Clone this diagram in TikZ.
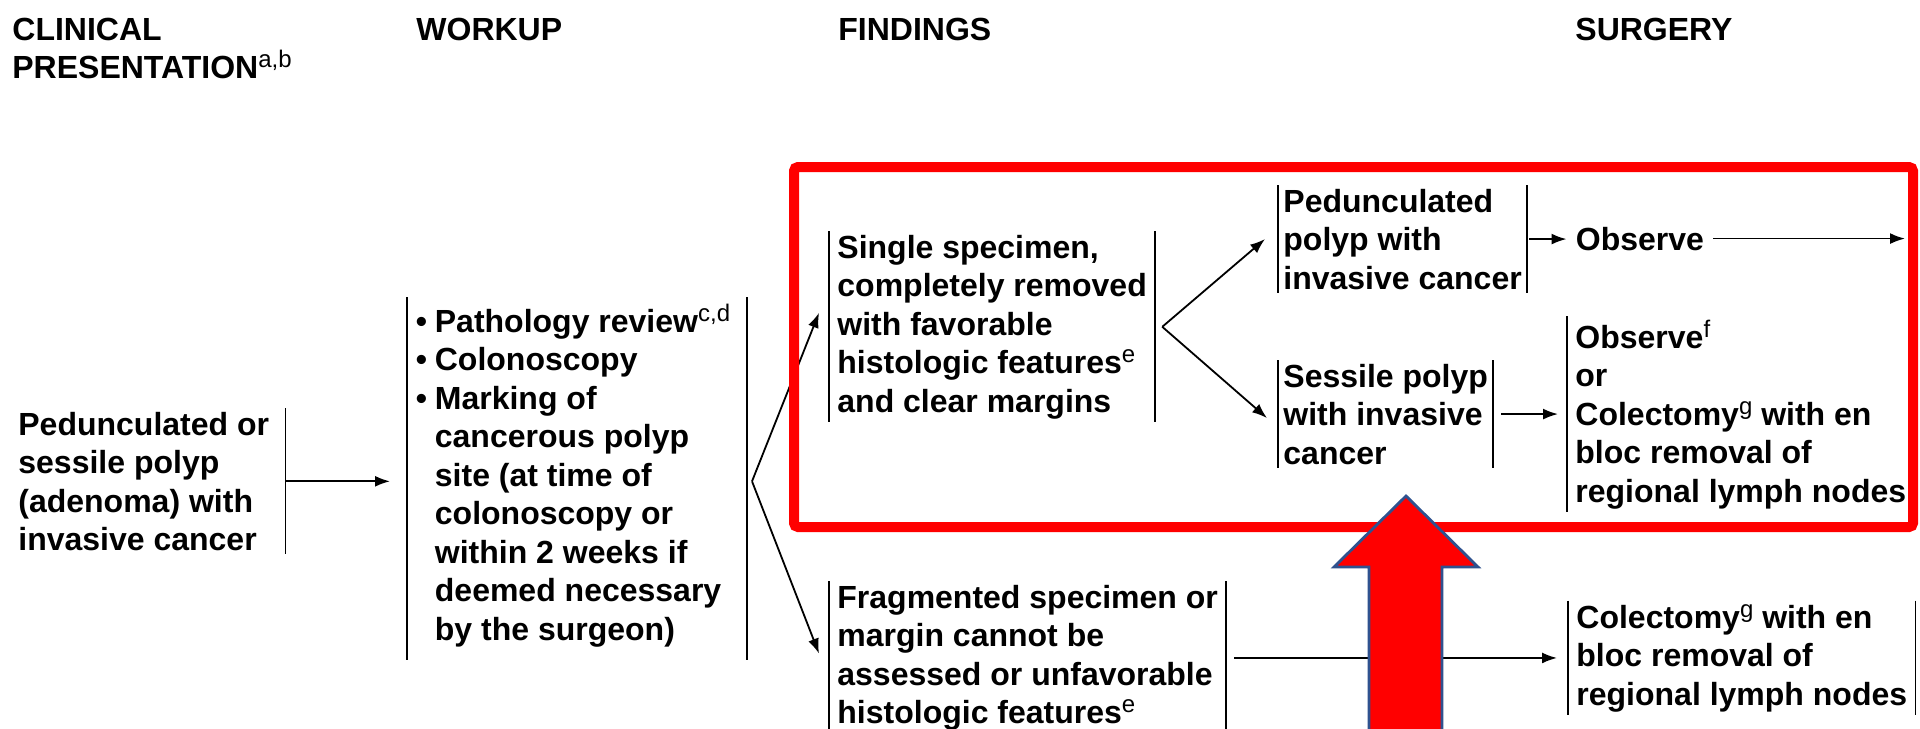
\documentclass[tikz,border=0pt]{standalone}
\usepackage{fontspec}
\setmainfont{Liberation Sans}
\usetikzlibrary{arrows.meta,calc}

% footnote markers, bullets and hanging indent for the workup list
\newcommand\supx[1]{\raisebox{5.5pt}{\fontsize{12}{12}\selectfont\mdseries #1}}
\newcommand\bul{\makebox[9.5pt][l]{\textbullet}}
\newcommand\ind{\hspace*{9.5pt}}

\definecolor{arrowblue}{RGB}{47,82,143}
\definecolor{hilite}{RGB}{255,0,0}

\begin{document}
\begin{tikzpicture}[x=0.5pt,y=-0.5pt,
  % multi-line nodes are placed by the baseline of their last line
  txt/.style={font=\fontsize{16}{19.25}\selectfont\bfseries, align=left,
              anchor=base west, inner ysep=1.5pt},
  head/.style={txt, inner sep=0pt},
  bar/.style={line width=0.9pt},
  link/.style={line width=0.9pt, -{Latex[length=7.5pt,width=5.5pt]}}]

\fill[white] (0,0) rectangle (1920,728);
\useasboundingbox (0,0) rectangle (1920,728);

% column headings
\node[head] (hclin) at (12,78.5) {CLINICAL\\PRESENTATION\supx{a,b}};
\node[head] (hwork) at (416,40)  {WORKUP};
\node[head] (hfind) at (838,40)  {FINDINGS};
\node[head] (hsurg) at (1575,40) {SURGERY};

% text blocks
\node[txt, inner xsep=4pt] (pres) at (10,550.5)
  {Pedunculated or\kern4pt\\sessile polyp\\(adenoma) with\\invasive cancer};
\node[txt, inner xsep=4.25pt] (work) at (407,640)
  {\bul Pathology review\supx{c,d}\kern4pt\\\bul Colonoscopy\\\bul Marking of\\
   \ind cancerous polyp\\\ind site (at time of\\\ind colonoscopy or\\
   \ind within 2 weeks if\\\ind deemed necessary\\\ind by the surgeon)};
\node[txt, inner xsep=4pt] (single) at (829,412)
  {Single specimen,\\completely removed\\with favorable\\histologic features\supx{e}\\and clear margins};
\node[txt, inner xsep=4pt] (frag) at (829,723.5)
  {Fragmented specimen or\\margin cannot be\\assessed or unfavorable\\histologic features\supx{e}};
\node[txt, inner xsep=2.5pt] (ped) at (1278,289)
  {Pedunculated\\polyp with\\invasive cancer};
\node[txt, inner xsep=2.5pt] (sess) at (1278,464)
  {Sessile polyp\\with invasive\\cancer};
\node[txt, inner xsep=4pt] (obsf) at (1567,502)
  {Observe\supx{f}\\or\\Colectomy\supx{g} with en\\bloc removal of\\regional lymph nodes};
\node[txt, inner xsep=4pt] (col) at (1568,705)
  {Colectomy\supx{g} with en\\bloc removal of\\regional lymph nodes};
\node[txt, inner xsep=4.5pt] (obs) at (1566.5,250) {Observe};

% side rules of the blocks
\foreach \n in {single,frag,ped,sess,obsf,col}{
  \draw[bar] (\n.north west) -- (\n.south west);
  \draw[bar] (\n.north east) -- (\n.south east);
}
\draw[bar] ([yshift=1.5pt]work.north west) -- ([yshift=-5pt]work.south west);
\draw[bar] ([yshift=1.5pt]work.north east) -- ([yshift=-5pt]work.south east);
\draw[bar] (pres.north east) -- (pres.south east);

% connectors
\draw[link, shorten >=8.5pt] (pres.east) -- (pres.east -| work.west);
\coordinate (wfork) at ([xshift=2.5pt]work.east |- pres.east);
\draw[link] (wfork) -- ([shift={(-5pt,7pt)}]single.west);
\draw[link] (wfork) -- ([shift={(-5pt,2pt)}]frag.west);
\coordinate (sfork) at ([xshift=3.5pt]single.east);
\draw[link] (sfork) -- ([xshift=-6.5pt]ped.west);
\draw[link] (sfork) -- ([shift={(-5.5pt,-2pt)}]sess.west);
\draw[link, shorten <=1pt] (ped.east) -- (ped.east -| obs.west);
\coordinate (obsend) at (1905,239);
\draw[link] (obs.east) -- (obs.east -| obsend);
\draw[link, shorten <=4pt, shorten >=4.5pt] (sess.east) -- (sess.east -| obsf.west);
\draw[link, shorten <=4pt, shorten >=5.5pt] (frag.east |- col.west) -- (col.west);

% highlight frame
\draw[hilite, line width=5pt, rounded corners=2pt] (794,167) rectangle (1913,527);

% block arrow pointing at the frame
\filldraw[fill=hilite, draw=arrowblue, line width=1.4pt, line join=miter]
  (1406,496) -- (1478,567) -- (1442,567) -- (1442,745) -- (1369,745)
  -- (1369,567) -- (1334,567) -- cycle;

\end{tikzpicture}
\end{document}
